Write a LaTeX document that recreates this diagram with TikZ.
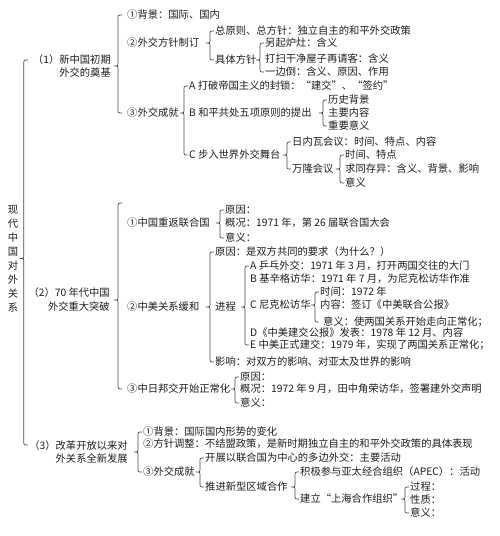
\documentclass[tikz,border=0pt]{standalone}
\usepackage{fontspec}
\setmainfont{Noto Sans CJK SC}
\usetikzlibrary{calc}
\definecolor{ln}{HTML}{4A4A4A}
\definecolor{txt}{HTML}{1E1E1E}

% left brace: tip (#1, only its y), upper end (#2), lower end (#3, only its y)
\newcommand{\brc}[3]{%
  \draw[brc] let \p1=(#1), \p2=(#2), \p3=(#3) in
    (\x2-1pt,\y2) .. controls (\x2-5pt,\y2) .. (\x2-5pt,\y2-4pt)
    -- (\x2-5pt,\y1+4pt) .. controls (\x2-5pt,\y1) .. (\x2-9pt,\y1)
    .. controls (\x2-5pt,\y1) .. (\x2-5pt,\y1-4pt)
    -- (\x2-5pt,\y3+4pt) .. controls (\x2-5pt,\y3) .. (\x2-1pt,\y3);}

\begin{document}
\begin{tikzpicture}[x=1pt,y=-1pt,
    every node/.style={anchor=west,inner sep=0pt,text=txt,
      font=\fontsize{10.3pt}{13pt}\selectfont},
    brc/.style={draw=ln,line width=0.7pt}]
        \useasboundingbox (0,0) rectangle (499,536);

        \node[anchor=center,align=center,font=\fontsize{10.3pt}{14pt}\selectfont] (root) at (13,258.5)
            {现\\代\\中\\国\\对\\外\\关\\系};

        % (1)
        \node[anchor=east,align=right] (n1) at (111,66) {（1）新中国初期\\外交的奠基};
        \node (n1a) at (127,15) {①背景：国际、国内};
        \node (n1b) at (127,43) {②外交方针制订};
        \node (n1b1) at (215,31) {总原则、总方针：独立自主的和平外交政策};
        \node (n1b2) at (215,60) {具体方针};
        \node (n1b2a) at (265,43) {另起炉灶：含义};
        \node (n1b2b) at (265,59) {打扫干净屋子再请客：含义};
        \node (n1b2c) at (265,72) {一边倒：含义、原因、作用};
        \node (n1c) at (127,113) {③外交成就};
        \node (n1cA) at (189,86) {A 打破帝国主义的封锁：“建交”、“签约”};
        \node (n1cB) at (189,113) {B 和平共处五项原则的提出};
        \node (n1cB1) at (328,100) {历史背景};
        \node (n1cB2) at (328,113) {主要内容};
        \node (n1cB3) at (328,126) {重要意义};
        \node (n1cC) at (189,155) {C 步入世界外交舞台};
        \node (n1cC1) at (292,142) {日内瓦会议：时间、特点、内容};
        \node (n1cC2) at (292,169) {万隆会议};
        \node (n1cC2a) at (345,155) {时间、特点};
        \node (n1cC2b) at (345,169) {求同存异：含义、背景、影响};
        \node (n1cC2c) at (345,183) {意义};

        % (2)
        \node[anchor=east,align=right,font=\fontsize{10.3pt}{14pt}\selectfont] (n2) at (110,300)
            {（2）70 年代中国\\外交重大突破};
        \node (n2a) at (127,223) {①中国重返联合国};
        \node (n2a1) at (225,210) {原因：};
        \node (n2a2) at (225,223) {概况：1971 年，第 26 届联合国大会};
        \node (n2a3) at (225,238) {意义：};
        \node (n2b) at (127,307) {②中美关系缓和};
        \node (n2b1) at (215,252) {原因：是双方共同的要求（为什么？）};
        \node (n2b2) at (215,307) {进程};
        \node (n2b2A) at (250,266) {A 乒乓外交：1971 年 3 月，打开两国交往的大门};
        \node (n2b2B) at (250,279) {B 基辛格访华：1971 年 7 月，为尼克松访华作准};
        \node (n2b2C) at (250,305) {C 尼克松访华};
        \node (n2b2C1) at (320,292) {时间：1972 年};
        \node (n2b2C2) at (320,305) {内容：签订《中美联合公报》};
        \node (n2b2C3) at (323,322) {意义：使两国关系开始走向正常化；};
        \node (n2b2D) at (250,333) {D《中美建交公报》发表：1978 年 12 月、内容};
        \node (n2b2E) at (250,345) {E 中美正式建交：1979 年，实现了两国关系正常化；};
        \node (n2b3) at (215,362) {影响：对双方的影响、对亚太及世界的影响};
        \node (n2c) at (127,389) {③中日邦交开始正常化};
        \node (n2c1) at (240,377) {原因：};
        \node (n2c2) at (240,389) {概况：1972 年 9 月，田中角荣访华，签署建外交声明};
        \node (n2c3) at (240,403) {意义：};

        % (3)
        \node[anchor=east,align=right] (n3) at (128,452) {（3）改革开放以来对\\外关系全新发展};
        \node (n3a) at (143,432) {①背景：国际国内形势的变化};
        \node (n3b) at (143,444) {②方针调整：不结盟政策，是新时期独立自主的和平外交政策的具体表现};
        \node (n3c) at (143,472) {③外交成就};
        \node (n3c1) at (205,458) {开展以联合国为中心的多边外交：主要活动};
        \node (n3c2) at (205,487) {推进新型区域合作};
        \node (n3c2a) at (300,472) {积极参与亚太经合组织（APEC）：活动};
        \node (n3c2b) at (300,499) {建立“上海合作组织”};
        \node (n3c2b1) at (410,487) {过程：};
        \node (n3c2b2) at (410,500) {性质：};
        \node (n3c2b3) at (410,513) {意义：};

        \brc{root.east}{[xshift=-4pt,yshift=6pt]n1.west}{[yshift=7pt]n3.west}
        \brc{n1.east}{[xshift=-4pt]n1a.west}{n1c.west}
        \brc{n1b.east}{n1b1.west}{n1b2.west}
        \brc{n1b2.east}{n1b2a.west}{n1b2c.west}
        \brc{n1c.east}{n1cA.west}{n1cC.west}
        \brc{n1cB.east}{n1cB1.west}{n1cB3.west}
        \brc{n1cC.east}{n1cC1.west}{n1cC2.west}
        \brc{n1cC2.east}{n1cC2a.west}{n1cC2c.west}
        \brc{n2.east}{[xshift=-4pt,yshift=20pt]n2a.west}{n2c.west}
        \brc{n2a.east}{n2a1.west}{n2a3.west}
        \brc{n2b.east}{n2b1.west}{n2b3.west}
        \brc{n2b2.east}{n2b2A.west}{n2b2E.west}
        \brc{n2b2C.east}{n2b2C1.west}{n2b2C3.west}
        \brc{n2c.east}{n2c1.west}{n2c3.west}
        \brc{n3.east}{n3a.west}{n3c.west}
        \brc{n3c.east}{n3c1.west}{n3c2.west}
        \brc{n3c2.east}{n3c2a.west}{n3c2b.west}
        \brc{n3c2b.east}{n3c2b1.west}{n3c2b3.west}

    \end{tikzpicture}
\end{document}
